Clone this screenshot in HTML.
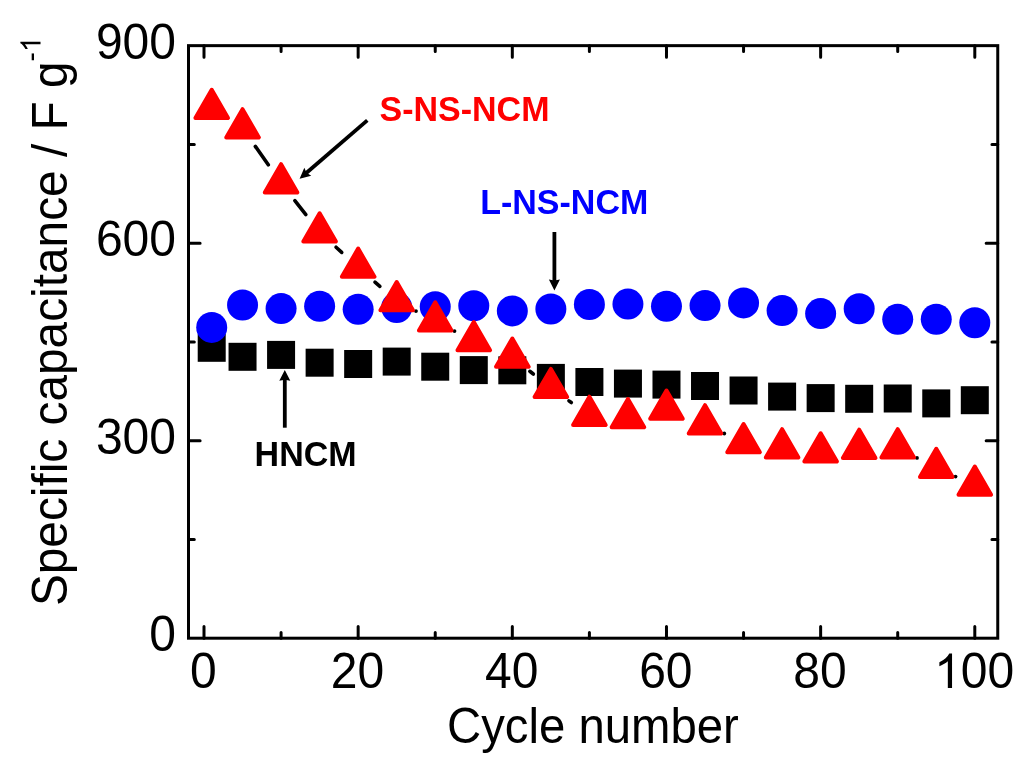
<!DOCTYPE html><html><head><meta charset="utf-8"><style>html,body{margin:0;padding:0;background:#fff;width:1024px;height:771px;overflow:hidden}svg{display:block;will-change:transform}text{font-family:"Liberation Sans",sans-serif}</style></head><body>
<svg width="1024" height="771" viewBox="0 0 1024 771">
<rect width="1024" height="771" fill="#fff"/>
<rect x="197.71" y="333.80" width="28.0" height="28.0" fill="#000"/>
<rect x="228.54" y="342.80" width="28.0" height="28.0" fill="#000"/>
<rect x="267.08" y="340.90" width="28.0" height="28.0" fill="#000"/>
<rect x="305.62" y="348.70" width="28.0" height="28.0" fill="#000"/>
<rect x="344.16" y="350.00" width="28.0" height="28.0" fill="#000"/>
<rect x="382.70" y="347.60" width="28.0" height="28.0" fill="#000"/>
<rect x="421.24" y="352.70" width="28.0" height="28.0" fill="#000"/>
<rect x="459.78" y="356.10" width="28.0" height="28.0" fill="#000"/>
<rect x="498.32" y="356.30" width="28.0" height="28.0" fill="#000"/>
<rect x="536.86" y="363.90" width="28.0" height="28.0" fill="#000"/>
<rect x="575.40" y="368.00" width="28.0" height="28.0" fill="#000"/>
<rect x="613.94" y="369.60" width="28.0" height="28.0" fill="#000"/>
<rect x="652.48" y="370.60" width="28.0" height="28.0" fill="#000"/>
<rect x="691.02" y="372.00" width="28.0" height="28.0" fill="#000"/>
<rect x="729.56" y="376.50" width="28.0" height="28.0" fill="#000"/>
<rect x="768.10" y="382.60" width="28.0" height="28.0" fill="#000"/>
<rect x="806.64" y="384.10" width="28.0" height="28.0" fill="#000"/>
<rect x="845.18" y="384.80" width="28.0" height="28.0" fill="#000"/>
<rect x="883.72" y="384.50" width="28.0" height="28.0" fill="#000"/>
<rect x="922.26" y="389.40" width="28.0" height="28.0" fill="#000"/>
<rect x="960.80" y="386.20" width="28.0" height="28.0" fill="#000"/>
<circle cx="211.71" cy="327.40" r="15.5" fill="#00f"/>
<circle cx="242.54" cy="305.00" r="15.5" fill="#00f"/>
<circle cx="281.08" cy="308.60" r="15.5" fill="#00f"/>
<circle cx="319.62" cy="306.30" r="15.5" fill="#00f"/>
<circle cx="358.16" cy="309.30" r="15.5" fill="#00f"/>
<circle cx="396.70" cy="307.50" r="15.5" fill="#00f"/>
<circle cx="435.24" cy="306.80" r="15.5" fill="#00f"/>
<circle cx="473.78" cy="305.80" r="15.5" fill="#00f"/>
<circle cx="512.32" cy="310.90" r="15.5" fill="#00f"/>
<circle cx="550.86" cy="309.00" r="15.5" fill="#00f"/>
<circle cx="589.40" cy="304.50" r="15.5" fill="#00f"/>
<circle cx="627.94" cy="304.10" r="15.5" fill="#00f"/>
<circle cx="666.48" cy="306.20" r="15.5" fill="#00f"/>
<circle cx="705.02" cy="305.60" r="15.5" fill="#00f"/>
<circle cx="743.56" cy="302.90" r="15.5" fill="#00f"/>
<circle cx="782.10" cy="310.60" r="15.5" fill="#00f"/>
<circle cx="820.64" cy="313.60" r="15.5" fill="#00f"/>
<circle cx="859.18" cy="308.80" r="15.5" fill="#00f"/>
<circle cx="897.72" cy="319.20" r="15.5" fill="#00f"/>
<circle cx="936.26" cy="319.20" r="15.5" fill="#00f"/>
<circle cx="974.80" cy="322.80" r="15.5" fill="#00f"/>
<line x1="255.34" y1="146.36" x2="268.28" y2="164.84" stroke="#000" stroke-width="3.6" stroke-linecap="round"/>
<line x1="294.85" y1="200.64" x2="305.85" y2="214.66" stroke="#000" stroke-width="3.6" stroke-linecap="round"/>
<line x1="336.06" y1="247.26" x2="341.72" y2="252.44" stroke="#000" stroke-width="3.6" stroke-linecap="round"/>
<line x1="374.99" y1="282.13" x2="379.87" y2="286.37" stroke="#000" stroke-width="3.6" stroke-linecap="round"/>
<circle cx="415.97" cy="311.10" r="1.9" fill="#000"/>
<circle cx="454.51" cy="331.10" r="1.9" fill="#000"/>
<line x1="529.85" y1="371.28" x2="533.33" y2="374.02" stroke="#000" stroke-width="3.6" stroke-linecap="round"/>
<line x1="568.95" y1="400.85" x2="571.31" y2="402.55" stroke="#000" stroke-width="3.6" stroke-linecap="round"/>
<circle cx="724.29" cy="433.50" r="1.9" fill="#000"/>
<circle cx="916.99" cy="457.90" r="1.9" fill="#000"/>
<circle cx="955.53" cy="476.55" r="1.9" fill="#000"/>
<path d="M211.71,89.80 L228.01,118.00 L195.41,118.00Z" fill="#f00" stroke="#f00" stroke-width="4.0" stroke-linejoin="round"/>
<path d="M242.54,109.20 L258.84,137.40 L226.24,137.40Z" fill="#f00" stroke="#f00" stroke-width="4.0" stroke-linejoin="round"/>
<path d="M281.08,164.20 L297.38,192.40 L264.78,192.40Z" fill="#f00" stroke="#f00" stroke-width="4.0" stroke-linejoin="round"/>
<path d="M319.62,213.30 L335.92,241.50 L303.32,241.50Z" fill="#f00" stroke="#f00" stroke-width="4.0" stroke-linejoin="round"/>
<path d="M358.16,248.60 L374.46,276.80 L341.86,276.80Z" fill="#f00" stroke="#f00" stroke-width="4.0" stroke-linejoin="round"/>
<path d="M396.70,282.10 L413.00,310.30 L380.40,310.30Z" fill="#f00" stroke="#f00" stroke-width="4.0" stroke-linejoin="round"/>
<path d="M435.24,302.30 L451.54,330.50 L418.94,330.50Z" fill="#f00" stroke="#f00" stroke-width="4.0" stroke-linejoin="round"/>
<path d="M473.78,322.10 L490.08,350.30 L457.48,350.30Z" fill="#f00" stroke="#f00" stroke-width="4.0" stroke-linejoin="round"/>
<path d="M512.32,338.60 L528.62,366.80 L496.02,366.80Z" fill="#f00" stroke="#f00" stroke-width="4.0" stroke-linejoin="round"/>
<path d="M550.86,368.90 L567.16,397.10 L534.56,397.10Z" fill="#f00" stroke="#f00" stroke-width="4.0" stroke-linejoin="round"/>
<path d="M589.40,396.70 L605.70,424.90 L573.10,424.90Z" fill="#f00" stroke="#f00" stroke-width="4.0" stroke-linejoin="round"/>
<path d="M627.94,399.10 L644.24,427.30 L611.64,427.30Z" fill="#f00" stroke="#f00" stroke-width="4.0" stroke-linejoin="round"/>
<path d="M666.48,390.50 L682.78,418.70 L650.18,418.70Z" fill="#f00" stroke="#f00" stroke-width="4.0" stroke-linejoin="round"/>
<path d="M705.02,405.20 L721.32,433.40 L688.72,433.40Z" fill="#f00" stroke="#f00" stroke-width="4.0" stroke-linejoin="round"/>
<path d="M743.56,424.00 L759.86,452.20 L727.26,452.20Z" fill="#f00" stroke="#f00" stroke-width="4.0" stroke-linejoin="round"/>
<path d="M782.10,429.20 L798.40,457.40 L765.80,457.40Z" fill="#f00" stroke="#f00" stroke-width="4.0" stroke-linejoin="round"/>
<path d="M820.64,433.30 L836.94,461.50 L804.34,461.50Z" fill="#f00" stroke="#f00" stroke-width="4.0" stroke-linejoin="round"/>
<path d="M859.18,429.70 L875.48,457.90 L842.88,457.90Z" fill="#f00" stroke="#f00" stroke-width="4.0" stroke-linejoin="round"/>
<path d="M897.72,429.20 L914.02,457.40 L881.42,457.40Z" fill="#f00" stroke="#f00" stroke-width="4.0" stroke-linejoin="round"/>
<path d="M936.26,448.80 L952.56,477.00 L919.96,477.00Z" fill="#f00" stroke="#f00" stroke-width="4.0" stroke-linejoin="round"/>
<path d="M974.80,466.50 L991.10,494.70 L958.50,494.70Z" fill="#f00" stroke="#f00" stroke-width="4.0" stroke-linejoin="round"/>
<rect x="188.5" y="45.65" width="809.25" height="592.55" fill="none" stroke="#000" stroke-width="3" stroke-linejoin="miter"/>
<path d="M204.00,638.2 v-11.6 M204.00,45.65 v11.6 M281.08,638.2 v-5.8 M281.08,45.65 v5.8 M358.16,638.2 v-11.6 M358.16,45.65 v11.6 M435.24,638.2 v-5.8 M435.24,45.65 v5.8 M512.32,638.2 v-11.6 M512.32,45.65 v11.6 M589.40,638.2 v-5.8 M589.40,45.65 v5.8 M666.48,638.2 v-11.6 M666.48,45.65 v11.6 M743.56,638.2 v-5.8 M743.56,45.65 v5.8 M820.64,638.2 v-11.6 M820.64,45.65 v11.6 M897.72,638.2 v-5.8 M897.72,45.65 v5.8 M974.80,638.2 v-11.6 M974.80,45.65 v11.6 M188.5,539.44 h5.8 M997.75,539.44 h-5.8 M188.5,440.68 h11.6 M997.75,440.68 h-11.6 M188.5,341.93 h5.8 M997.75,341.93 h-5.8 M188.5,243.17 h11.6 M997.75,243.17 h-11.6 M188.5,144.41 h5.8 M997.75,144.41 h-5.8" stroke="#000" stroke-width="3" fill="none" stroke-linecap="round"/>
<text x="190.05" y="688.10" font-size="49.92" fill="#000" textLength="26.70" lengthAdjust="spacingAndGlyphs">0</text>
<text x="330.86" y="688.10" font-size="49.92" fill="#000" textLength="53.39" lengthAdjust="spacingAndGlyphs">20</text>
<text x="485.02" y="688.10" font-size="49.92" fill="#000" textLength="53.39" lengthAdjust="spacingAndGlyphs">40</text>
<text x="639.18" y="688.10" font-size="49.92" fill="#000" textLength="53.39" lengthAdjust="spacingAndGlyphs">60</text>
<text x="793.34" y="688.10" font-size="49.92" fill="#000" textLength="53.39" lengthAdjust="spacingAndGlyphs">80</text>
<path transform="translate(934.16,688.10) scale(0.02344,-0.02344)" d="M763,0 L583,0 L583,1147 Q518,1085 412.5,1023 Q307,961 223,930 L223,1104 Q374,1175 487,1276 Q600,1377 647,1472 L763,1472 Z" fill="#000"/><text x="960.85" y="688.10" font-size="49.92" fill="#000" textLength="53.39" lengthAdjust="spacingAndGlyphs">00</text>
<text x="149.30" y="651.10" font-size="49.92" fill="#000" textLength="26.70" lengthAdjust="spacingAndGlyphs">0</text>
<text x="95.91" y="453.58" font-size="49.92" fill="#000" textLength="80.09" lengthAdjust="spacingAndGlyphs">300</text>
<text x="95.91" y="256.07" font-size="49.92" fill="#000" textLength="80.09" lengthAdjust="spacingAndGlyphs">600</text>
<text x="95.91" y="58.55" font-size="49.92" fill="#000" textLength="80.09" lengthAdjust="spacingAndGlyphs">900</text>
<text x="447.00" y="742.50" font-size="49.19" fill="#000" textLength="291.79" lengthAdjust="spacingAndGlyphs">Cycle number</text>
<g transform="translate(67.1,606.1) rotate(-90)"><text x="0.00" y="0.00" font-size="49.71" fill="#000" textLength="544.66" lengthAdjust="spacingAndGlyphs">Specific capacitance / F g</text><text x="544.66" y="-26.60" font-size="29.12" fill="#000" textLength="9.32" lengthAdjust="spacingAndGlyphs">-</text><path transform="translate(553.98,-26.60) scale(0.01367,-0.01367)" d="M763,0 L583,0 L583,1147 Q518,1085 412.5,1023 Q307,961 223,930 L223,1104 Q374,1175 487,1276 Q600,1377 647,1472 L763,1472 Z" fill="#000"/></g>
<text x="379.50" y="121.00" font-size="35.36" font-weight="bold" fill="#f00" textLength="169.98" lengthAdjust="spacingAndGlyphs">S-NS-NCM</text>
<text x="480.20" y="214.00" font-size="35.36" font-weight="bold" fill="#00f" textLength="168.07" lengthAdjust="spacingAndGlyphs">L-NS-NCM</text>
<text x="254.60" y="466.20" font-size="35.36" font-weight="bold" fill="#000" textLength="101.98" lengthAdjust="spacingAndGlyphs">HNCM</text>
<line x1="367.30" y1="120.40" x2="306.27" y2="172.96" stroke="#000" stroke-width="3.8" stroke-linecap="butt"/><path d="M299.60,178.70 L304.33,167.64 L306.56,172.71 L311.24,175.67Z" fill="#000"/>
<line x1="554.40" y1="232.00" x2="554.40" y2="281.60" stroke="#000" stroke-width="3.8" stroke-linecap="butt"/><path d="M554.40,290.40 L548.90,279.60 L554.40,280.46 L559.90,279.60Z" fill="#000"/>
<line x1="284.80" y1="427.70" x2="284.80" y2="378.70" stroke="#000" stroke-width="3.8" stroke-linecap="butt"/><path d="M284.80,369.90 L290.30,380.70 L284.80,379.84 L279.30,380.70Z" fill="#000"/>
</svg></body></html>
